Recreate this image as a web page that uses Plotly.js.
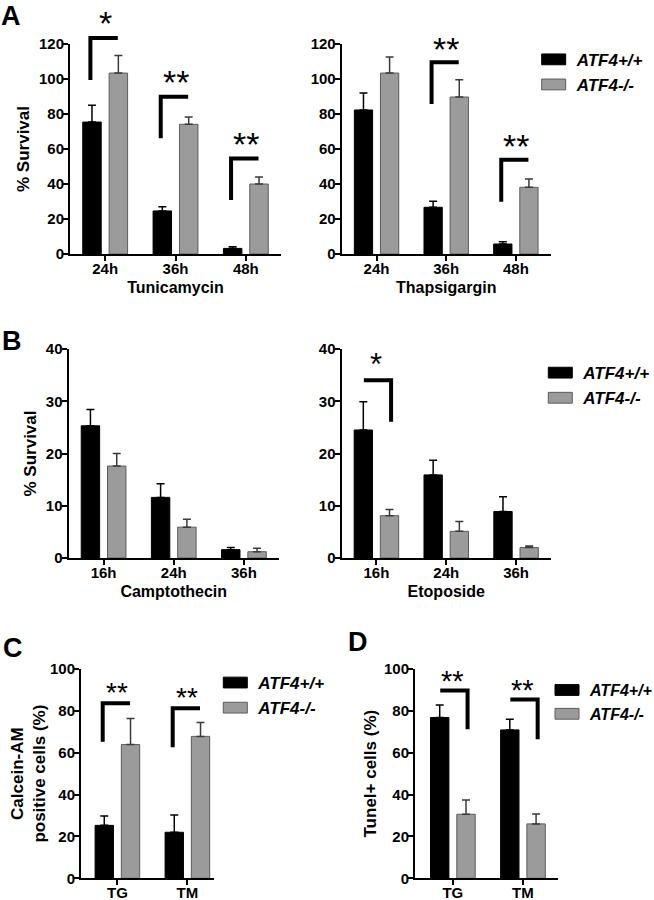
<!DOCTYPE html>
<html><head><meta charset="utf-8">
<script src="https://cdn.plot.ly/plotly-3.0.1.min.js"></script>
<style>html,body{margin:0;padding:0;background:#fff;}#chart{width:654px;height:900px;}</style>
</head><body><div id="chart"></div>
<script>
// ---------------- data ----------------
const seriesNames = ['ATF4+/+', 'ATF4-/-'];
const timeA = ['24h', '36h', '48h'];
const timeB = ['16h', '24h', '36h'];
const treatCD = ['TG', 'TM'];

// A: Tunicamycin
const tunWT = [75.4, 24.6, 3.2];
const tunWTerr = [9.6, 2.4, 1.0];
const tunKO = [103.4, 74.1, 40.0];
const tunKOerr = [10.1, 4.2, 4.0];
// A: Thapsigargin
const thaWT = [82.3, 26.7, 5.7];
const thaWTerr = [9.7, 3.4, 1.3];
const thaKO = [103.4, 89.7, 38.1];
const thaKOerr = [9.2, 9.9, 4.8];
// B: Camptothecin
const camWT = [25.3, 11.6, 1.6];
const camWTerr = [3.1, 2.6, 0.4];
const camKO = [17.6, 5.9, 1.2];
const camKOerr = [2.4, 1.5, 0.65];
// B: Etoposide
const etoWT = [24.5, 15.9, 8.9];
const etoWTerr = [5.4, 2.8, 2.8];
const etoKO = [8.1, 5.1, 2.0];
const etoKOerr = [1.2, 1.9, 0.3];
// C: Calcein-AM positive cells
const calWT = [25.3, 22.0];
const calWTerr = [4.5, 8.3];
const calKO = [63.9, 67.8];
const calKOerr = [12.4, 6.6];
// D: Tunel+ cells
const tunelWT = [76.8, 70.9];
const tunelWTerr = [6.0, 5.1];
const tunelKO = [30.6, 26.0];
const tunelKOerr = [6.8, 4.7];

// significance marks: category index, bracket low/high end, star level, label
const sigTun = [
  {cat: 0, lo: 99.4, hi: 123.4, star: 136.4, label: '*'},
  {cat: 1, lo: 66.1, hi: 89.8, star: 102.9, label: '**'},
  {cat: 2, lo: 30.9, hi: 54.6, star: 67.4, label: '**'}
];
const sigTha = [
  {cat: 1, lo: 85.7, hi: 109.6, star: 122.0, label: '**'},
  {cat: 2, lo: 29.9, hi: 53.8, star: 66.1, label: '**'}
];
const sigCam = [];
const sigEto = [
  {cat: 0, lo: 26.1, hi: 34.0, star: 38.5, label: '*'}
];
const sigCal = [
  {cat: 0, lo: 65.3, hi: 83.6, star: 91.9, label: '**'},
  {cat: 1, lo: 62.6, hi: 81.2, star: 89.6, label: '**'}
];
const sigTunel = [
  {cat: 0, lo: 71.2, hi: 89.7, star: 97.6, label: '**'},
  {cat: 1, lo: 66.4, hi: 85.4, star: 93.2, label: '**'}
];

// ---------------- layout helpers ----------------
const W = 654, H = 900;
const px2x = p => p / W;
const px2y = p => 1 - p / H;
const FONT = 'Liberation Sans, Arial, Helvetica, sans-serif';

const panels = [
  {cats: timeA, wt: tunWT, wtErr: tunWTerr, ko: tunKO, koErr: tunKOerr, sig: sigTun,
   xtitle: 'Tunicamycin', ytitle: '% Survival', yMax: 120, dtick: 20, ystand: 5,
   xpx: [70, 281], ypx: [44, 254], xr: [-0.5, 2.5], side: 'left', star: 34, legend: null},
  {cats: timeA, wt: thaWT, wtErr: thaWTerr, ko: thaKO, koErr: thaKOerr, sig: sigTha,
   xtitle: 'Thapsigargin', ytitle: '', yMax: 120, dtick: 20, ystand: 5,
   xpx: [341.7, 550.7], ypx: [44, 254], xr: [-0.5, 2.5], side: 'left', star: 34,
   legend: {id: 'legend', lx: 530.7, ly: 41.8, size: 17}},
  {cats: timeB, wt: camWT, wtErr: camWTerr, ko: camKO, koErr: camKOerr, sig: sigCam,
   xtitle: 'Camptothecin', ytitle: '% Survival', yMax: 40, dtick: 10, ystand: 5,
   xpx: [68.5, 279], ypx: [349, 558], xr: [-0.5, 2.5], side: 'left', star: 31, legend: null},
  {cats: timeB, wt: etoWT, wtErr: etoWTerr, ko: etoKO, koErr: etoKOerr, sig: sigEto,
   xtitle: 'Etoposide', ytitle: '', yMax: 40, dtick: 10, ystand: 5,
   xpx: [341.5, 551], ypx: [349, 558], xr: [-0.5, 2.5], side: 'right', star: 31,
   legend: {id: 'legend2', lx: 537.3, ly: 355.1, size: 17}},
  {cats: treatCD, wt: calWT, wtErr: calWTerr, ko: calKO, koErr: calKOerr, sig: sigCal,
   xtitle: '', ytitle: 'Calcein-AM<br>positive cells (%)', yMax: 100, dtick: 20, ystand: 0,
   xpx: [81, 214], ypx: [669, 878.3], xr: [-0.52, 1.38], side: 'left', star: 28,
   legend: {id: 'legend3', lx: 212.3, ly: 665, size: 17}},
  {cats: treatCD, wt: tunelWT, wtErr: tunelWTerr, ko: tunelKO, koErr: tunelKOerr, sig: sigTunel,
   xtitle: '', ytitle: 'Tunel+ cells (%)', yMax: 100, dtick: 20, ystand: 3,
   xpx: [415, 558], ypx: [669, 878.3], xr: [-0.54, 1.5], side: 'right', star: 29,
   legend: {id: 'legend4', lx: 544, ly: 673.1, size: 16}}
];

const traces = [];
const shapes = [];
const annotations = [];
const layout = {
  width: W, height: H, autosize: false,
  margin: {l: 0, r: 0, t: 0, b: 0, autoexpand: false},
  paper_bgcolor: '#fff', plot_bgcolor: 'rgba(0,0,0,0)',
  font: {family: FONT, color: '#000', size: 15, weight: 'bold'},
  barmode: 'group', bargap: 0.25, bargroupgap: 0.3,
  showlegend: true
};

const BLACK = '#000000', GREY = '#9b9b9b', GREY_LINE = '#5c5c5c';
const VOFF = 0.21, HOFF = 0.18; // bracket geometry in category units

panels.forEach((p, i) => {
  const n = i === 0 ? '' : String(i + 1);
  const xa = 'x' + n, ya = 'y' + n;
  const legId = p.legend ? p.legend.id : 'legend';
  traces.push({
    type: 'bar', name: seriesNames[0], x: p.cats, y: p.wt, xaxis: xa, yaxis: ya,
    marker: {color: BLACK, line: {color: BLACK, width: 1}},
    error_y: {type: 'data', array: p.wtErr, symmetric: false, color: BLACK, thickness: 1.5, width: 4},
    showlegend: !!p.legend, legend: legId, hoverinfo: 'skip'
  });
  traces.push({
    type: 'bar', name: seriesNames[1], x: p.cats, y: p.ko, xaxis: xa, yaxis: ya,
    marker: {color: GREY, line: {color: GREY_LINE, width: 1}},
    error_y: {type: 'data', array: p.koErr, symmetric: false, color: '#3a3a3a', thickness: 1.5, width: 4},
    showlegend: !!p.legend, legend: legId, hoverinfo: 'skip'
  });

  layout['xaxis' + n] = {
    domain: [px2x(p.xpx[0]), px2x(p.xpx[1])], anchor: ya, type: 'category',
    range: p.xr, showline: true, linewidth: 2, linecolor: '#000',
    ticks: 'outside', ticklen: 5, tickwidth: 2, tickcolor: '#000', ticklabelstandoff: -5,
    showgrid: false, zeroline: false, fixedrange: true,
    tickfont: {family: FONT, size: 15, weight: 'bold', color: '#000'},
    title: p.xtitle ? {text: p.xtitle, font: {family: FONT, size: 16, weight: 'bold', color: '#000'}, standoff: 6} : {text: ''}
  };
  layout['yaxis' + n] = {
    domain: [px2y(p.ypx[1]), px2y(p.ypx[0])], anchor: xa,
    range: [0, p.yMax], tick0: 0, dtick: p.dtick,
    showline: true, linewidth: 2, linecolor: '#000',
    ticks: 'outside', ticklen: 5, tickwidth: 2, tickcolor: '#000', ticklabelstandoff: -4,
    showgrid: false, zeroline: false, fixedrange: true,
    tickfont: {family: FONT, size: 15, weight: 'bold', color: '#000'},
    title: p.ytitle ? {text: p.ytitle, font: {family: FONT, size: 17, weight: 'bold', color: '#000'}, standoff: p.ystand} : {text: ''}
  };

  // significance brackets and stars
  const yd = ya + ' domain';
  p.sig.forEach(s => {
    const lo = s.lo / p.yMax, hi = s.hi / p.yMax;
    let path;
    if (p.side === 'left') {
      const xv = s.cat - VOFF, xe = s.cat + HOFF;
      path = `M${xv},${lo} L${xv},${hi} L${xe},${hi}`;
    } else {
      const xs = s.cat - HOFF, xv = s.cat + VOFF;
      path = `M${xs},${hi} L${xv},${hi} L${xv},${lo}`;
    }
    shapes.push({type: 'path', xref: xa, yref: yd, path: path,
      line: {color: '#000', width: 4}, layer: 'above'});
    annotations.push({xref: xa, yref: yd, x: s.cat, y: s.star / p.yMax,
      text: s.label, showarrow: false, xanchor: 'center', yanchor: 'middle',
      yshift: -0.24 * p.star,
      font: {family: FONT, size: p.star, color: '#000', weight: 'normal'}});
  });

  if (p.legend) {
    layout[p.legend.id] = {
      x: px2x(p.legend.lx), y: px2y(p.legend.ly), xanchor: 'left', yanchor: 'top',
      orientation: 'v', bgcolor: 'rgba(0,0,0,0)', borderwidth: 0, itemwidth: 36,
      traceorder: 'normal', itemclick: false, itemdoubleclick: false,
      font: {family: FONT, size: p.legend.size, weight: 'bold', style: 'italic', color: '#000'}
    };
  }
});

// panel letters
[['A', 11, 15.5], ['B', 11.7, 341], ['C', 12.5, 648], ['D', 358, 642]].forEach(l => {
  annotations.push({xref: 'paper', yref: 'paper', x: px2x(l[1]), y: px2y(l[2]),
    text: l[0], showarrow: false, xanchor: 'center', yanchor: 'middle',
    font: {family: FONT, size: 27, weight: 'bold', color: '#000'}});
});

layout.shapes = shapes;
layout.annotations = annotations;

Plotly.newPlot('chart', traces, layout, {displayModeBar: false, staticPlot: true}).then(gd => {
  gd.querySelectorAll('g.legendpoints path').forEach(el => {
    const t = el.getAttribute('transform') || '';
    el.setAttribute('transform', t + ' scale(2,0.9)');
    el.style.vectorEffect = 'non-scaling-stroke';
  });
});
</script>
</body></html>
